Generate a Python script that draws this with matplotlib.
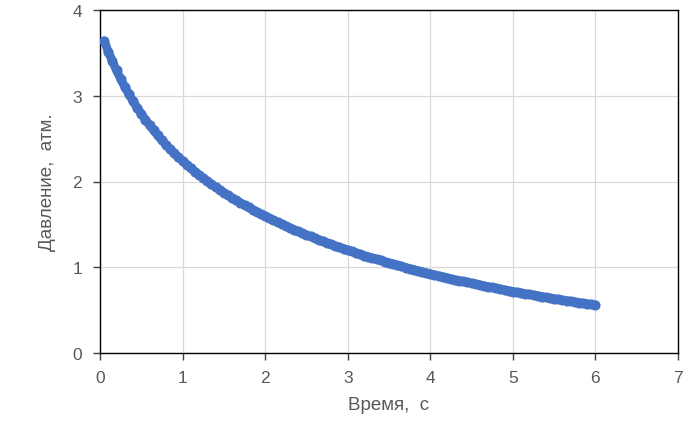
import matplotlib
matplotlib.use("Agg")
import matplotlib.pyplot as plt

# time, s (0.05 s step)
time_s = [round(0.05 * i, 2) for i in range(1, 121)]
# pressure, atm
pressure = [
    3.640, 3.516, 3.402, 3.295, 3.197, 3.104, 3.018, 2.937, 2.861, 2.789,
    2.721, 2.657, 2.596, 2.538, 2.482, 2.429, 2.379, 2.330, 2.284, 2.239,
    2.196, 2.155, 2.115, 2.076, 2.039, 2.003, 1.968, 1.934, 1.902, 1.870,
    1.839, 1.809, 1.780, 1.751, 1.724, 1.697, 1.670, 1.645, 1.620, 1.595,
    1.571, 1.548, 1.525, 1.503, 1.481, 1.459, 1.438, 1.418, 1.398, 1.378,
    1.359, 1.340, 1.321, 1.303, 1.285, 1.267, 1.250, 1.233, 1.217, 1.200,
    1.184, 1.168, 1.153, 1.137, 1.122, 1.108, 1.093, 1.079, 1.065, 1.051,
    1.037, 1.024, 1.010, 0.997, 0.985, 0.972, 0.960, 0.947, 0.935, 0.923,
    0.912, 0.900, 0.889, 0.877, 0.866, 0.855, 0.845, 0.834, 0.823, 0.813,
    0.803, 0.793, 0.783, 0.773, 0.764, 0.754, 0.745, 0.735, 0.726, 0.717,
    0.708, 0.700, 0.691, 0.683, 0.674, 0.666, 0.658, 0.649, 0.641, 0.634,
    0.626, 0.618, 0.610, 0.603, 0.596, 0.588, 0.581, 0.574, 0.567, 0.560,
]
x_ticks = [0, 1, 2, 3, 4, 5, 6, 7]
y_ticks = [0, 1, 2, 3, 4]
x_label = "Время,  с"
y_label = "Давление,  атм."

plt.rcParams['font.family'] = ['Liberation Sans', 'DejaVu Sans']

fig = plt.figure(figsize=(6.98, 4.27), dpi=100)
ax = fig.add_axes([100/698, 1-354/427, 578/698, 343/427])

blue = '#4472C4'
# dense markers merge into one thick band
ax.plot(time_s, pressure, linestyle='-', lw=6.3, color=blue,
        solid_capstyle='round', solid_joinstyle='round', zorder=3)
ax.plot(time_s, pressure, linestyle='none', marker='o', ms=6.5,
        color=blue, mec=blue, mew=0.8, zorder=4)

ax.set_xlim(0, 7)
ax.set_ylim(0, 4)
ax.set_xticks(x_ticks)
ax.set_yticks(y_ticks)
ax.grid(True, color='#D9D9D9', linewidth=0.9)
ax.set_axisbelow(True)
for s in ax.spines.values():
    s.set_color('black')
    s.set_linewidth(1.0)
ax.tick_params(direction='out', length=5, width=1.0, color='#404040',
               labelcolor='#595959', labelsize=12.5)
ax.tick_params(axis='x', pad=7)
ax.tick_params(axis='y', pad=8)

ax.set_xlabel(x_label, fontsize=13.5, color='#595959', labelpad=8)
ax.set_ylabel(y_label, fontsize=13.5, color='#595959', labelpad=12)

fig.savefig("out.png", dpi=100)
